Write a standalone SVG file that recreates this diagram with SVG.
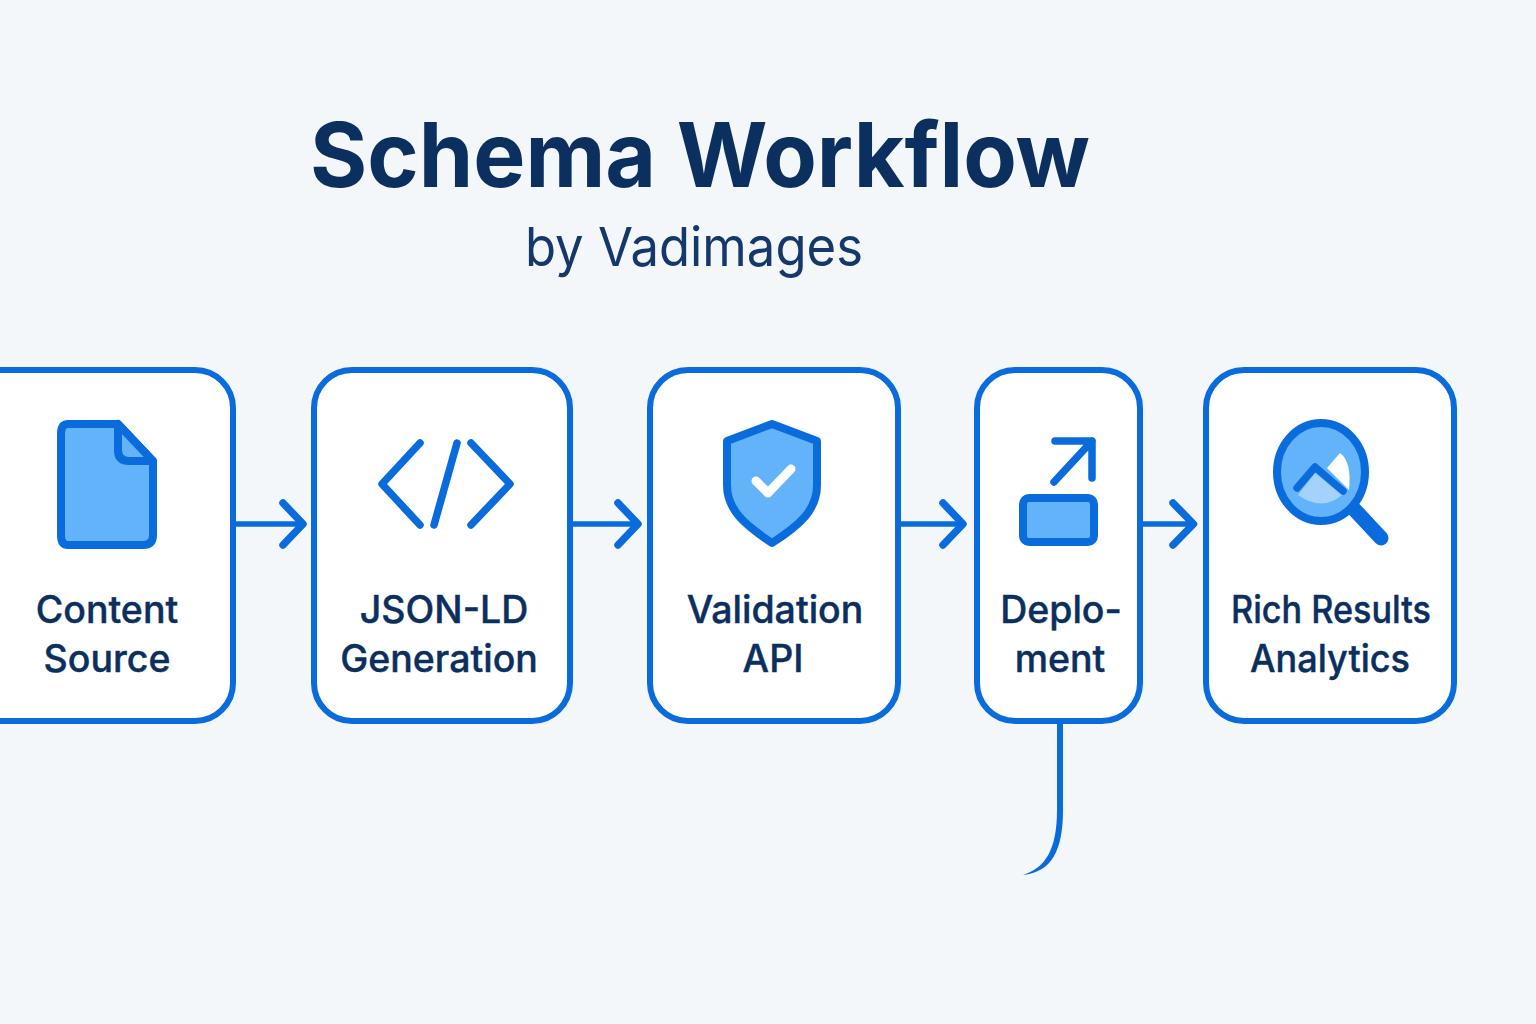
<svg xmlns="http://www.w3.org/2000/svg" width="1536" height="1024" viewBox="0 0 1536 1024">
<style>
.box{fill:#fff;stroke:#0a6cdc;stroke-width:6}
.ln{fill:none;stroke:#0a6cdc;stroke-width:7.500;stroke-linecap:round;stroke-linejoin:round}
.cn{fill:none;stroke:#0a6cdc;stroke-width:5.500}
.ic{fill:#63b3fa;stroke:#0a6cdc;stroke-width:8;stroke-linejoin:round}
.t{font-family:Inter,"Noto Sans",sans-serif;font-size:37.500px;font-weight:500;fill:#0b2f5e;text-anchor:middle;stroke:#0b2f5e;stroke-width:.4}
</style>
<rect width="1536" height="1024" fill="#f3f7fa"/>
<text id="title" x="700" y="187" text-anchor="middle" font-family="Inter,sans-serif" font-weight="700" font-size="90" textLength="780" lengthAdjust="spacingAndGlyphs" fill="#0b2f5e">Schema Workflow</text>
<text id="subtitle" x="694" y="266" text-anchor="middle" font-family="Inter,sans-serif" font-weight="400" font-size="54" textLength="338" lengthAdjust="spacingAndGlyphs" fill="#14386a">by Vadimages</text>
<g id="connectors">
<path class="cn" d="M235 524H302"/><path class="ln" d="M283 503L303 524L283 545"/>
<path class="cn" d="M571 524H637"/><path class="ln" d="M618 503L638 524L618 545"/>
<path class="cn" d="M899 524H961"/><path class="ln" d="M943 503L963 524L943 545"/>
<path class="cn" d="M1141 524H1192"/><path class="ln" d="M1173 503L1193.500 524L1173 545"/>
<path d="M1057 722H1063V810C1063 850 1052 872 1023 875C1045 868 1057 850 1057 810Z" fill="#0a6cdc"/>
</g>
<g id="node-content">
<rect class="box" x="-40" y="370" width="273" height="351" rx="38"/>
<path class="ic" d="M68 424H118L153 461V535Q153 545 143 545H68Q61 545 61 535V434Q61 424 68 424Z"/>
<path class="ic" d="M118 424V450Q118 461 129 461H153Z"/>
<text class="t" x="107" y="623">Content</text><text class="t" x="107" y="672">Source</text>
</g>
<g id="node-jsonld">
<rect class="box" x="314" y="370" width="256" height="351" rx="38"/>
<path class="ln" d="M420 443L382 484L420 525M471 443L510 484L471 525M457 443L434 525"/>
<text class="t" x="444" y="623">JSON-LD</text><text class="t" x="439" y="672">Generation</text>
</g>
<g id="node-validation">
<rect class="box" x="650" y="370" width="248" height="351" rx="38"/>
<path class="ic" d="M772 424L817 441V485C817 510 800 525 772 543C745 525 727 510 727 485V441Z"/>
<path d="M756 481L768 493L791 469" fill="none" stroke="#fff" stroke-width="9" stroke-linecap="round" stroke-linejoin="round"/>
<text class="t" x="775" y="623">Validation</text><text class="t" x="773" y="672">API</text>
</g>
<g id="node-deployment">
<rect class="box" x="977" y="370" width="163" height="351" rx="38"/>
<rect class="ic" x="1023" y="498" width="71" height="44" rx="6"/>
<path class="ln" d="M1054 482L1092 441M1055 441H1092V478"/>
<text class="t" x="1061" y="623">Deplo-</text><text class="t" x="1060" y="672">ment</text>
</g>
<g id="node-rich">
<rect class="box" x="1206" y="370" width="248" height="351" rx="38"/>
<path class="ln" style="stroke-width:15" d="M1352 507L1381 538"/>
<ellipse cx="1321" cy="472" rx="44" ry="49" fill="#63b3fa" stroke="#0a6cdc" stroke-width="8"/>
<path d="M1298 495L1315 473L1342 495Q1322 512 1298 495Z" fill="#a5d2fd"/>
<path d="M1327 468L1340 453Q1352 462 1349 490Z" fill="#fff"/>
<path class="ln" d="M1297 488L1315 467L1343 491"/>
<text class="t" x="1331" y="623" textLength="200" lengthAdjust="spacingAndGlyphs">Rich Results</text><text class="t" x="1330" y="672" textLength="160" lengthAdjust="spacingAndGlyphs">Analytics</text>
</g>
</svg>
